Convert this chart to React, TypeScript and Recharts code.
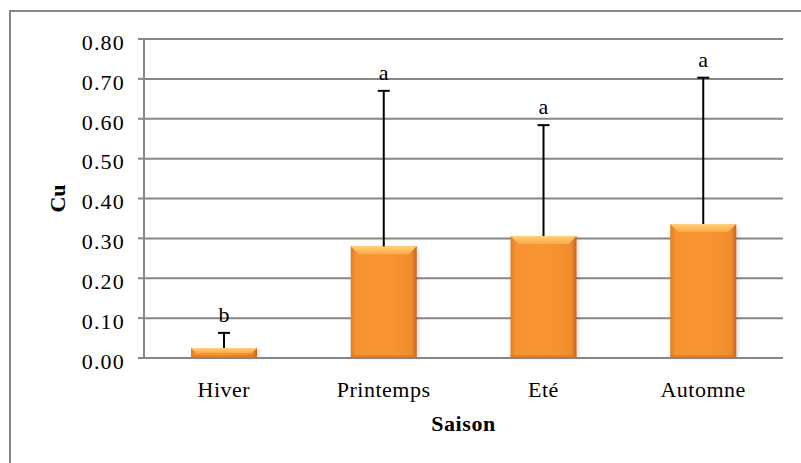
import React from 'react';
import { BarChart, Bar, XAxis, YAxis, CartesianGrid, Label } from 'recharts';

// Cu par saison : moyenne + écart-type (haut seulement) + lettres de groupe
const seasons = ['Hiver', 'Printemps', 'Eté', 'Automne'];
const cuMeans = [0.025, 0.28, 0.306, 0.336];
const cuUpper = [0.063, 0.67, 0.584, 0.703];
const groups = ['b', 'a', 'a', 'a'];
const yTicks = [0, 0.1, 0.2, 0.3, 0.4, 0.5, 0.6, 0.7, 0.8];

const data = seasons.map((saison, i) => ({
  saison,
  cu: cuMeans[i],
  upper: cuUpper[i],
  group: groups[i],
}));

const serif = '"Liberation Serif", "Times New Roman", serif';
const grey = '#868686';

const OrangeBar = (props: any) => {
  const { x, y, width, height, payload } = props;
  if (!height || height <= 0) return null;
  const base = y + height;
  const pxPerUnit = height / payload.cu;
  const errY = base - payload.upper * pxPerUnit;
  const cx = x + width / 2;
  const b = Math.min(8, height / 2);
  return (
    <g>
      <rect x={x + 2} y={y + 2} width={width} height={height - 2} fill="#000" opacity={0.15} filter="url(#soft)" />
      <rect x={x} y={y} width={width} height={height} fill="url(#barBody)" />
      <polygon
        points={`${x},${y} ${x + width},${y} ${x + width - b},${y + b} ${x + b},${y + b}`}
        fill="url(#barTop)"
      />
      <rect x={x} y={base - 3} width={width} height={3} fill="#d9771f" opacity={0.6} />
      <line x1={cx} x2={cx} y1={y} y2={errY} stroke="#000" strokeWidth={2} />
      <line x1={cx - 6} x2={cx + 6} y1={errY} y2={errY} stroke="#000" strokeWidth={2} />
      <text x={cx} y={errY - 11} textAnchor="middle" fontFamily={serif} fontSize={22} fill="#000">
        {payload.group}
      </text>
    </g>
  );
};

export default function App() {
  return (
    <div style={{ position: 'absolute', left: 0, top: 0, width: 801, height: 463, overflow: 'hidden', background: '#fff' }}>
      <div
        style={{
          position: 'absolute',
          left: 9,
          top: 10,
          width: 792,
          height: 453,
          borderLeft: `2px solid ${grey}`,
          borderTop: `2px solid ${grey}`,
        }}
      />
      <div style={{ position: 'absolute', left: 0, top: 0 }}>
        <BarChart
          width={801}
          height={463}
          data={data}
          barSize={66}
          margin={{ top: 39, right: 18, left: 44, bottom: 25 }}
        >
          <defs>
            <linearGradient id="barBody" x1="0" y1="0" x2="1" y2="0">
              <stop offset="0%" stopColor="#e07d27" />
              <stop offset="8%" stopColor="#f6922f" />
              <stop offset="50%" stopColor="#f99634" />
              <stop offset="92%" stopColor="#f08c2c" />
              <stop offset="100%" stopColor="#c4651e" />
            </linearGradient>
            <linearGradient id="barTop" x1="0" y1="0" x2="0" y2="1">
              <stop offset="0%" stopColor="#ffd07c" />
              <stop offset="100%" stopColor="#fba946" />
            </linearGradient>
            <filter id="soft" x="-20%" y="-20%" width="140%" height="140%">
              <feGaussianBlur stdDeviation="2" />
            </filter>
          </defs>
          <CartesianGrid vertical={false} stroke={grey} strokeWidth={2} />
          <XAxis
            dataKey="saison"
            height={80}
            axisLine={{ stroke: grey, strokeWidth: 2 }}
            tickLine={false}
            tickSize={0}
            tickMargin={23}
            tick={{ fill: '#000', fontFamily: serif, fontSize: 22, letterSpacing: 0.5 }}
          >
            <Label
              value="Saison"
              position="insideBottom"
              offset={7}
              style={{ fill: '#000', fontFamily: serif, fontSize: 22, fontWeight: 'bold', letterSpacing: 0.6 }}
            />
          </XAxis>
          <YAxis
            width={100}
            domain={[0, 0.8]}
            ticks={yTicks}
            interval={0}
            tickFormatter={(v: number) => v.toFixed(2)}
            axisLine={{ stroke: grey, strokeWidth: 2 }}
            tickLine={{ stroke: grey, strokeWidth: 2 }}
            tickSize={6}
            tickMargin={13}
            tick={{ fill: '#000', fontFamily: serif, fontSize: 22, dy: 3, letterSpacing: 1.2 }}
          >
            <Label
              value="Cu"
              angle={-90}
              position="insideLeft"
              offset={13}
              style={{ fill: '#000', fontFamily: serif, fontSize: 22, fontWeight: 'bold', textAnchor: 'middle' }}
            />
          </YAxis>
          <Bar dataKey="cu" shape={OrangeBar} isAnimationActive={false} />
        </BarChart>
      </div>
    </div>
  );
}
